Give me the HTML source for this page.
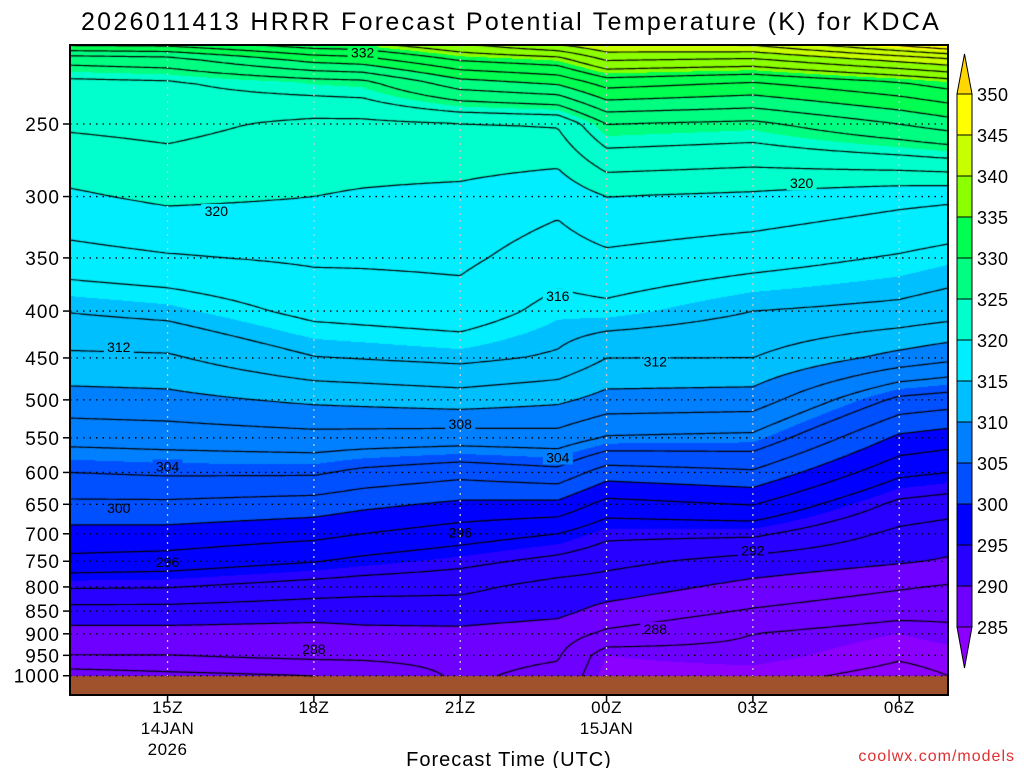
<!DOCTYPE html>
<html><head><meta charset="utf-8">
<style>
html,body{margin:0;padding:0;background:#fff;}
#wrap{position:relative;width:1024px;height:768px;overflow:hidden;font-family:"Liberation Sans",sans-serif;}
canvas{position:absolute;left:70px;top:45px;}
svg{position:absolute;left:0;top:0;}
</style></head>
<body>
<div id="wrap">
<canvas id="cv" width="878" height="650"></canvas>
<svg id="sv" width="1024" height="768"></svg>
</div>
<script>
// ---- data: potential temperature (K) at each pressure level, per forecast hour ----
const times=[13,15,18,19,21,23,24,27,30,31];
const levels=[1000,950,900,850,800,750,700,650,600,550,500,450,400,350,300,250,225,212,200];
const theta13Z=[285,288,289.3,291.2,294.2,297.5,299.3,301.6,304,306.7,309.2,311.6,314.1,317.3,319.7,322.3,323.5,327,336];
const theta15Z=[285.5,288,289.3,291.2,294.1,297.2,299.3,301.6,304.3,306.9,309.4,311.7,314.6,317.8,320.4,322.6,323.8,327.5,336];
const theta18Z=[286,288.5,289.2,290.8,293.1,296.1,298.6,301.1,304.3,307.3,310.4,313.9,316.6,318.3,320,321.5,325.2,331,338];
const theta19Z=[286.5,288.5,289.5,290.8,292.8,295.5,298,300.5,303.5,307.2,310.6,314.1,316.8,318.3,319.8,321.5,325.5,331.5,338];
const theta21Z=[288.3,288.6,289.5,291,292.5,294.6,297,299.6,302.7,307,311,314.5,317.2,318.4,319.5,321.9,329.3,334.5,340];
const theta23Z=[287.5,288.2,289,290.5,291.2,293.4,296,299.5,303.4,307.2,310.4,313.7,315.3,317,318.6,322.2,330.5,335.5,343];
const theta00Z=[284.5,285,287.6,289.4,291,292.6,294.5,297.3,301,305.8,309.3,312,315.5,317.6,320,326,333,338.5,344];
const theta03Z=[284.5,285.5,286,287.8,289.4,291.2,294.4,298.1,301.7,305.5,309.1,312,314,316.8,319.6,325.5,332,338,345];
const theta06Z=[283.5,284.2,285,286.7,288.2,290.2,291.5,293.5,296.5,299.6,303.5,309.3,313.5,315.8,318.6,328,334,341,350];
const theta07Z=[284,284.5,285.5,286.5,287.8,289.8,291,293,296,299,303,308.5,313,315.3,318.4,329,335,342,352];
const columns=[theta13Z,theta15Z,theta18Z,theta19Z,theta21Z,theta23Z,theta00Z,theta03Z,theta06Z,theta07Z];
const bandLevels=[285,290,295,300,305,310,315,320,325,330,335,340,345,350];
const bandColors=['#8c00ff','#6e00ff','#2800ff','#0000ff','#0050ff','#0080ff','#00bfff','#00eeff','#00ffcc','#00ff80','#00ff50','#8cff00','#c8ff00','#ffff00','#ffd700'];
const yTickLabels=[250,300,350,400,450,500,550,600,650,700,750,800,850,900,950,1000];
const xTickHours=[15,18,21,24,27,30];
const xTickLabels=['15Z','18Z','21Z','00Z','03Z','06Z'];
const xTickSub1=['14JAN','','','15JAN','',''];
const xTickSub2=['2026','','','','',''];
// [value, hour, pressure]
const contourLabels=[[332,19.0,209],[320,16.0,311],[320,28.0,290],[316,23.0,385],[312,14.0,438],[312,25.0,454],[308,21.0,531],[304,15.0,591],[304,23.0,578],[300,14.0,656],[296,21.0,698],[292,27.0,730],[296,15.0,751],[288,18.0,935],[288,25.0,889]];

const X0=70,X1=948,Y0=45,Y1=695,YG=676;
const L250=Math.log(250),PPX=398;
function xOf(t){return X0+(t-13)*(X1-X0)/18;}
function yOf(p){return 124+(Math.log(p)-L250)*PPX;}
function tOf(x){return 13+(x-X0)*18/(X1-X0);}
function lnpOf(y){return L250+(y-124)/PPX;}
const lnLev=levels.map(Math.log);
function val(t,lnp){
  let i=0;while(i<times.length-2&&t>times[i+1])i++;
  let ft=(t-times[i])/(times[i+1]-times[i]);ft=Math.max(0,Math.min(1,ft));
  let j=0;while(j<levels.length-2&&lnp<lnLev[j+1])j++;
  let fp=(lnp-lnLev[j])/(lnLev[j+1]-lnLev[j]);fp=Math.max(0,Math.min(1,fp));
  const a=columns[i][j]*(1-fp)+columns[i][j+1]*fp;
  const b=columns[i+1][j]*(1-fp)+columns[i+1][j+1]*fp;
  return a*(1-ft)+b*ft;
}
function colorOf(v){let k=0;while(k<bandLevels.length&&v>=bandLevels[k])k++;return bandColors[k];}
function hex(c){return [parseInt(c.substr(1,2),16),parseInt(c.substr(3,2),16),parseInt(c.substr(5,2),16)];}
const rgb=bandColors.map(hex);

const cv=document.getElementById('cv');const ctx=cv.getContext('2d');
const W=cv.width,H=cv.height;
const img=ctx.createImageData(W,H);
for(let py=0;py<H;py++){
  const y=Y0+py+0.5;const lnp=lnpOf(y);
  for(let px=0;px<W;px++){
    const o=(py*W+px)*4;
    if(y>=YG){img.data[o]=160;img.data[o+1]=82;img.data[o+2]=45;img.data[o+3]=255;continue;}
    const v=val(tOf(X0+px+0.5),lnp);
    let k=0;while(k<bandLevels.length&&v>=bandLevels[k])k++;
    const c=rgb[k];img.data[o]=c[0];img.data[o+1]=c[1];img.data[o+2]=c[2];img.data[o+3]=255;
  }
}
ctx.putImageData(img,0,0);
// contours (marching squares)
const S=3,nx=Math.ceil(W/S)+1,ny=Math.ceil((YG-Y0)/S)+1;
const G=[];
for(let j=0;j<ny;j++){G[j]=[];const y=Math.min(Y0+j*S,YG);for(let i=0;i<nx;i++){G[j][i]=val(tOf(X0+i*S),lnpOf(y));}}
ctx.strokeStyle='#000';ctx.lineWidth=1.2;ctx.beginPath();
for(let lev=284;lev<=352;lev+=2){
  for(let j=0;j<ny-1;j++)for(let i=0;i<nx-1;i++){
    const a=G[j][i],b=G[j][i+1],c=G[j+1][i+1],d=G[j+1][i];
    const x0=i*S,x1=(i+1)*S,y0=j*S,y1=Math.min((j+1)*S,YG-Y0);
    const pts=[];
    if((a<lev)!=(b<lev))pts.push([x0+(lev-a)/(b-a)*S,y0]);
    if((b<lev)!=(c<lev))pts.push([x1,y0+(lev-b)/(c-b)*(y1-y0)]);
    if((d<lev)!=(c<lev))pts.push([x0+(lev-d)/(c-d)*S,y1]);
    if((a<lev)!=(d<lev))pts.push([x0,y0+(lev-a)/(d-a)*(y1-y0)]);
    for(let k=0;k+1<pts.length;k+=2){ctx.moveTo(pts[k][0],pts[k][1]);ctx.lineTo(pts[k+1][0],pts[k+1][1]);}
  }
}
ctx.stroke();

// overlay
const NS='http://www.w3.org/2000/svg';const sv=document.getElementById('sv');
function mk(tag,attrs,parent){const e=document.createElementNS(NS,tag);for(const k in attrs)e.setAttribute(k,attrs[k]);(parent||sv).appendChild(e);return e;}
contourLabels.forEach(function(L){
  const x=xOf(L[1]),y=yOf(L[2]);
  const bg=colorOf(val(L[1],Math.log(L[2])));
  const r=mk('rect',{x:x-15,y:y-7,width:30,height:14,fill:bg});
  
  
  const t=mk('text',{x:x,y:y+5,'font-size':14,'text-anchor':'middle',fill:'#000'});
  
  
  t.textContent=L[0];
});
yTickLabels.forEach(function(p){
  const y=yOf(p);if(y<Y0||y>YG+1)return;
  const l=mk('line',{x1:X0,x2:X1,y1:y,y2:y,stroke:'#000','stroke-width':1.3,'stroke-dasharray':'1.5 5'});
  
  
});
xTickHours.forEach(function(h,i){
  const x=xOf(h);
  const l=mk('line',{x1:x,x2:x,y1:Y0,y2:YG,stroke:'#c8c8c8','stroke-width':1.3,'stroke-dasharray':'2 5'});
  
  
  const tk=mk('line',{x1:x,x2:x,y1:Y1,y2:Y1+7,stroke:'#000','stroke-width':1.5});
  
  
  [[xTickLabels[i],713],[xTickSub1[i],734],[xTickSub2[i],755]].forEach(function(s){
    if(!s[0])return;
    const t=mk('text',{x:x,y:s[1],'font-size':17,'text-anchor':'middle',fill:'#000','letter-spacing':'0.5'});
    
    
    t.textContent=s[0];
  });
});
yTickLabels.forEach(function(p){
  const y=yOf(p);
  const tk=mk('line',{x1:X0-7,x2:X0,y1:y,y2:y,stroke:'#000','stroke-width':1.5});
  
  
  const t=mk('text',{x:60,y:y+7,'font-size':19,'text-anchor':'end',fill:'#000','letter-spacing':'1'});
  
  
  t.textContent=p;
});
const fr=mk('rect',{x:X0,y:Y0,width:X1-X0,height:Y1-Y0,fill:'none',stroke:'#000','stroke-width':2});


const CB0=957,CB1=972,cbTop=94,cbStep=41;
for(let k=0;k<bandLevels.length-1;k++){
  const y=cbTop+(bandLevels.length-2-k)*cbStep;
  const r=mk('rect',{x:CB0,y:y,width:CB1-CB0,height:cbStep,fill:bandColors[k+1],stroke:'#000','stroke-width':1});
  
  
}
const cbBot=cbTop+(bandLevels.length-1)*cbStep;
const tt=mk('polygon',{points:CB0+','+cbTop+' '+CB1+','+cbTop+' '+((CB0+CB1)/2)+',54',fill:bandColors[bandColors.length-1],stroke:'#000','stroke-width':1});


const tb=mk('polygon',{points:CB0+','+cbBot+' '+CB1+','+cbBot+' '+((CB0+CB1)/2)+',668',fill:bandColors[0],stroke:'#000','stroke-width':1});


bandLevels.forEach(function(v,k){
  const y=cbTop+(bandLevels.length-1-k)*cbStep;
  const t=mk('text',{x:977,y:y+7,'font-size':18,fill:'#000','letter-spacing':'0.5'});
  
  
  t.textContent=v;
});
const ti=mk('text',{x:511,y:30,'font-size':25,'text-anchor':'middle',fill:'#000','letter-spacing':'2.3'});


ti.textContent='2026011413 HRRR Forecast Potential Temperature (K) for KDCA';
const xt=mk('text',{x:509,y:766,'font-size':20,'text-anchor':'middle',fill:'#000','letter-spacing':'1'});


xt.textContent='Forecast Time (UTC)';
const cr=mk('text',{x:1015,y:761,'font-size':16,'text-anchor':'end',fill:'#e03030','letter-spacing':'1'});


cr.textContent='coolwx.com/models';
</script>
</body></html>
